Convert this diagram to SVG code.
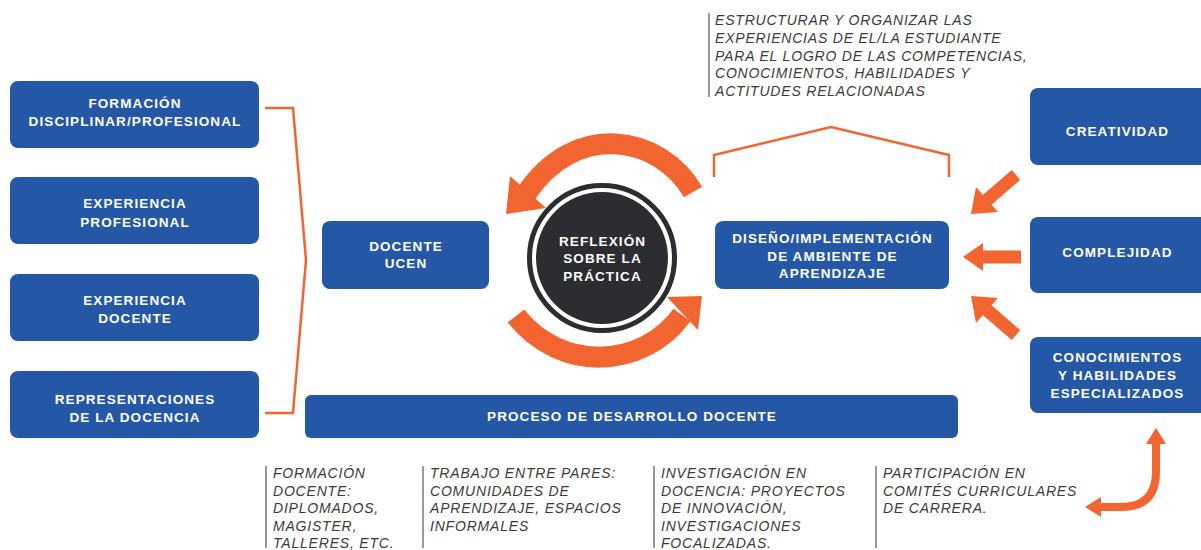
<svg xmlns="http://www.w3.org/2000/svg" width="1201" height="550" viewBox="0 0 1201 550">
<style>
.box{fill:#2457a5;}
.bt{font-family:"Liberation Sans",Arial,sans-serif;font-weight:bold;font-size:13.5px;letter-spacing:1.1px;fill:#ffffff;text-anchor:middle;}
.it{font-family:"Liberation Sans",Arial,sans-serif;font-style:italic;font-size:14px;letter-spacing:0.8px;fill:#3a3a3a;}
.vl{stroke:#555555;stroke-width:1.2;fill:none;}
.br{stroke:#f26430;stroke-width:2.5;fill:none;stroke-linejoin:miter;}
.sh{stroke:#f26430;fill:none;}
.hd{fill:#f26430;}
</style>
<rect width="1201" height="550" fill="#ffffff"/>

<g id="formacion-disciplinar"><rect class="box" x="10" y="81" width="249" height="67" rx="8"/><text class="bt" x="135" y="108">FORMACIÓN</text><text class="bt" x="135" y="126">DISCIPLINAR/PROFESIONAL</text></g>
<g id="experiencia-profesional"><rect class="box" x="10" y="177" width="249" height="67" rx="8"/><text class="bt" x="135" y="208">EXPERIENCIA</text><text class="bt" x="135" y="227">PROFESIONAL</text></g>
<g id="experiencia-docente"><rect class="box" x="10" y="274" width="249" height="67" rx="8"/><text class="bt" x="135" y="305">EXPERIENCIA</text><text class="bt" x="135" y="323">DOCENTE</text></g>
<g id="representaciones"><rect class="box" x="10" y="371" width="249" height="67" rx="8"/><text class="bt" x="135" y="404">REPRESENTACIONES</text><text class="bt" x="135" y="422">DE LA DOCENCIA</text></g>

<g id="docente-ucen"><rect class="box" x="322" y="221" width="167" height="68" rx="8"/><text class="bt" x="406" y="251">DOCENTE</text><text class="bt" x="406" y="268">UCEN</text></g>

<g id="reflexion">
<circle cx="602" cy="258" r="72.5" fill="none" stroke="#2b2d30" stroke-width="5"/>
<circle cx="602" cy="258" r="66" fill="#2b2d30"/>
<text class="bt" x="602.5" y="246">REFLEXIÓN</text><text class="bt" x="602.5" y="263">SOBRE LA</text><text class="bt" x="602.5" y="281">PRÁCTICA</text>
</g>

<g id="diseno"><rect class="box" x="715" y="221" width="234" height="68" rx="8"/><text class="bt" x="832.5" y="243">DISEÑO/IMPLEMENTACIÓN</text><text class="bt" x="832.5" y="261">DE AMBIENTE DE</text><text class="bt" x="832.5" y="278">APRENDIZAJE</text></g>

<g id="creatividad"><rect class="box" x="1030" y="88" width="180" height="77" rx="8"/><text class="bt" x="1117.5" y="136">CREATIVIDAD</text></g>
<g id="complejidad"><rect class="box" x="1030" y="217" width="180" height="76" rx="8"/><text class="bt" x="1117.5" y="257">COMPLEJIDAD</text></g>
<g id="conocimientos"><rect class="box" x="1030" y="337" width="180" height="76" rx="8"/><text class="bt" x="1117.5" y="362">CONOCIMIENTOS</text><text class="bt" x="1117.5" y="380">Y HABILIDADES</text><text class="bt" x="1117.5" y="398">ESPECIALIZADOS</text></g>

<g id="proceso"><rect class="box" x="305" y="395" width="653" height="43" rx="6"/><text class="bt" x="632" y="421">PROCESO DE DESARROLLO DOCENTE</text></g>

<g id="texto-estructurar">
<line class="vl" x1="709" y1="13" x2="709" y2="97"/>
<text class="it" x="715" y="25">ESTRUCTURAR Y ORGANIZAR LAS</text>
<text class="it" x="715" y="43">EXPERIENCIAS DE EL/LA ESTUDIANTE</text>
<text class="it" x="715" y="61">PARA EL LOGRO DE LAS COMPETENCIAS,</text>
<text class="it" x="715" y="78">CONOCIMIENTOS, HABILIDADES Y</text>
<text class="it" x="715" y="96">ACTITUDES RELACIONADAS</text>
</g>

<g id="texto-formacion">
<line class="vl" x1="266" y1="466" x2="266" y2="548"/>
<text class="it" x="273" y="478">FORMACIÓN</text>
<text class="it" x="273" y="496">DOCENTE:</text>
<text class="it" x="273" y="513">DIPLOMADOS,</text>
<text class="it" x="273" y="531">MAGISTER,</text>
<text class="it" x="273" y="548">TALLERES, ETC.</text>
</g>
<g id="texto-trabajo">
<line class="vl" x1="423" y1="466" x2="423" y2="548"/>
<text class="it" x="430" y="478">TRABAJO ENTRE PARES:</text>
<text class="it" x="430" y="496">COMUNIDADES DE</text>
<text class="it" x="430" y="513">APRENDIZAJE, ESPACIOS</text>
<text class="it" x="430" y="531">INFORMALES</text>
</g>
<g id="texto-investigacion">
<line class="vl" x1="654" y1="466" x2="654" y2="548"/>
<text class="it" x="661" y="478">INVESTIGACIÓN EN</text>
<text class="it" x="661" y="496">DOCENCIA: PROYECTOS</text>
<text class="it" x="661" y="513">DE INNOVACIÓN,</text>
<text class="it" x="661" y="531">INVESTIGACIONES</text>
<text class="it" x="661" y="548">FOCALIZADAS.</text>
</g>
<g id="texto-participacion">
<line class="vl" x1="876" y1="466" x2="876" y2="548"/>
<text class="it" x="883" y="478">PARTICIPACIÓN EN</text>
<text class="it" x="883" y="496">COMITÉS CURRICULARES</text>
<text class="it" x="883" y="513">DE CARRERA.</text>
</g>

<g id="connectors">
<polyline class="br" points="265,108 293,108 306,260 293,413 265,413"/>
<polyline class="br" points="714,177 714,155 831,127 949,155 949,177"/>
<path class="sh" stroke-width="21" d="M693,192 C660,135 575,120 526,194"/>
<polygon class="hd" points="506,214 510,176 546,208"/>
<path class="sh" stroke-width="21" d="M516,316 C560,372 642,370 682,315"/>
<polygon class="hd" points="702,296 667,297 698,330"/>
<path class="sh" stroke-width="13" d="M1016,175 L987,200"/>
<polygon class="hd" points="971,214 976,187 998,212"/>
<path class="sh" stroke-width="13" d="M1021,257 L981,257"/>
<polygon class="hd" points="963,257 983,243 983,271"/>
<path class="sh" stroke-width="13" d="M1016,335 L987,310"/>
<polygon class="hd" points="971,296 976,323 998,298"/>
<path class="sh" stroke-width="8" d="M1156,441 L1156,472 Q1156,507 1121,507 L1099,507"/>
<polygon class="hd" points="1156,428 1146,444 1166,444"/>
<polygon class="hd" points="1085,507 1101,497 1101,517"/>
</g>
</svg>
